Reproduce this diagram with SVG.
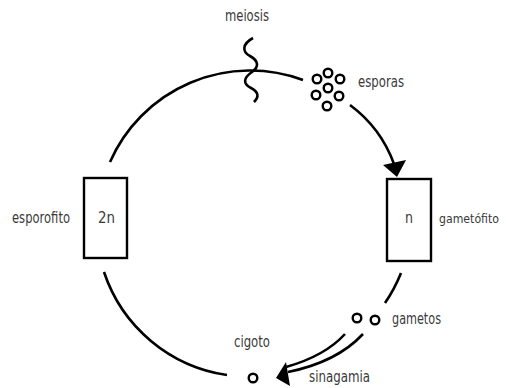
<svg xmlns="http://www.w3.org/2000/svg" width="506" height="388" viewBox="0 0 506 388">
<style>
.ln{fill:none;stroke:#000;stroke-width:2.6;stroke-linecap:butt}
.box{fill:#fff;stroke:#000;stroke-width:2.4}
.dot{fill:none;stroke:#000;stroke-width:2.4}
.head{fill:#000;stroke:none}
text{font-family:"DejaVu Sans Condensed","Liberation Sans",sans-serif;font-size:15px;fill:#3a3a3a}
</style>
<rect width="506" height="388" fill="#fff"/>
<g id="connectors">
<path class="ln" d="M110,162 A153,153 0 0 1 303,80"/>
<path class="ln" d="M104,272 A153,153 0 0 0 227,375"/>
<path class="ln" d="M401,273 A153,153 0 0 1 385,303"/>
<path class="ln" d="M350,105 Q381,128 394,164"/>
<polygon class="head" points="383,165 406,160 397,177"/>
<path class="ln" d="M345,334 Q325,356 286,367"/>
<path class="ln" d="M363,334 Q337,362 288,372"/>
<polygon class="head" points="286,362 276,378 290,386"/>
<path class="ln" d="M253,38 C242,44 242,52 250,56 C259,61 259,67 252,72 C243,78 243,84 251,88 C259,92 259,97 254,102"/>
</g>
<g id="meiosis"><text x="225" y="21" textLength="44" lengthAdjust="spacingAndGlyphs">meiosis</text></g>
<g id="esporas">
<circle class="dot" cx="328" cy="73" r="4.3"/>
<circle class="dot" cx="317" cy="79" r="4.3"/>
<circle class="dot" cx="340" cy="79" r="4.3"/>
<circle class="dot" cx="328" cy="88" r="4.3"/>
<circle class="dot" cx="316" cy="95" r="4.3"/>
<circle class="dot" cx="339" cy="96" r="4.3"/>
<circle class="dot" cx="327" cy="106" r="4.3"/>
<text x="358" y="87" textLength="46" lengthAdjust="spacingAndGlyphs">esporas</text>
</g>
<g id="esporofito">
<rect class="box" x="84" y="178" width="43" height="80"/>
<text x="98" y="223" textLength="17" lengthAdjust="spacingAndGlyphs">2n</text>
<text x="12" y="223" textLength="58" lengthAdjust="spacingAndGlyphs">esporofito</text>
</g>
<g id="gametofito">
<rect class="box" x="387" y="179" width="44" height="82"/>
<text x="405" y="223" textLength="8" lengthAdjust="spacingAndGlyphs">n</text>
<text x="439" y="223" style="font-size:13px" textLength="60" lengthAdjust="spacingAndGlyphs">gametófito</text>
</g>
<g id="gametos">
<circle class="dot" cx="357" cy="318" r="4.3"/>
<circle class="dot" cx="375" cy="320" r="4.3"/>
<text x="392" y="324" textLength="49" lengthAdjust="spacingAndGlyphs">gametos</text>
</g>
<g id="cigoto">
<circle class="dot" cx="253" cy="378" r="4.3"/>
<text x="234" y="347" textLength="36" lengthAdjust="spacingAndGlyphs">cigoto</text>
</g>
<g id="sinagamia"><text x="309" y="382" textLength="61" lengthAdjust="spacingAndGlyphs">sinagamia</text></g>
</svg>
